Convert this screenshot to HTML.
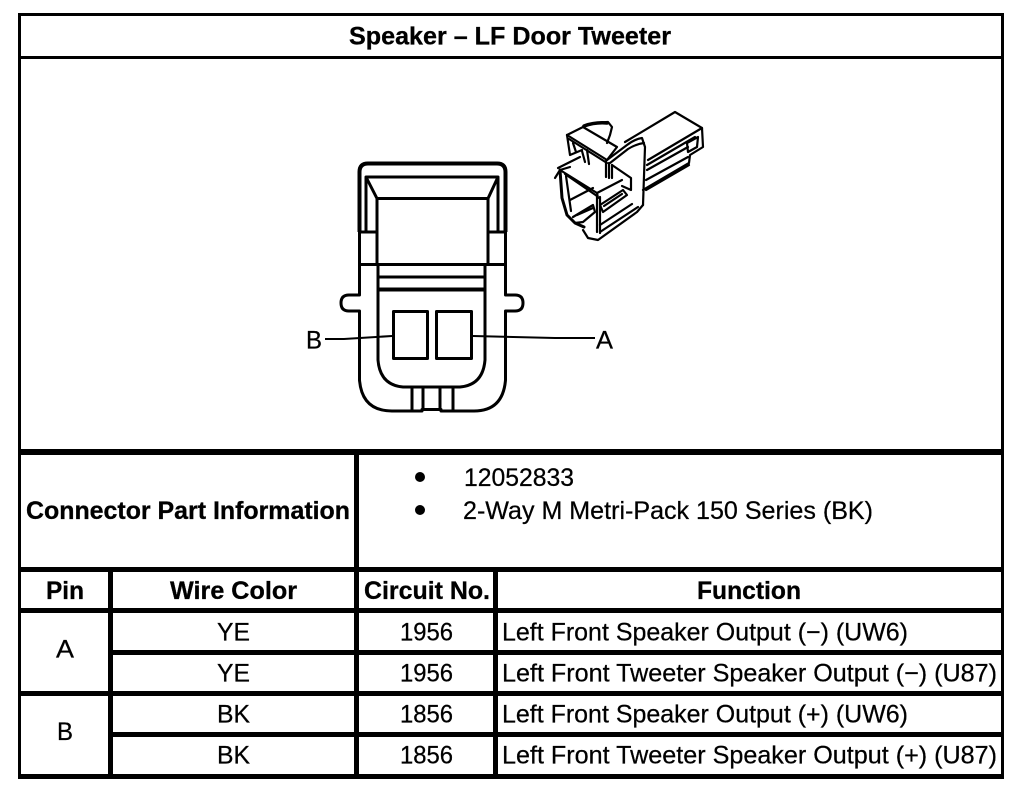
<!DOCTYPE html>
<html><head><meta charset="utf-8"><style>
html,body{margin:0;padding:0;background:#fff;width:1024px;height:800px;overflow:hidden}
svg{display:block}
text{font-family:"Liberation Sans",Arial,sans-serif;font-size:25px;fill:#000;stroke:#000;stroke-width:.25px}
.b{font-weight:bold;stroke-width:.3px}
</style></head><body>
<svg width="1024" height="800" viewBox="0 0 1024 800" xmlns="http://www.w3.org/2000/svg">
<rect width="1024" height="800" fill="#fff"/>
<g fill="#000" shape-rendering="crispEdges">
<rect x="18" y="13" width="986" height="3"/>
<rect x="18" y="56" width="986" height="3"/>
<rect x="18" y="13" width="3" height="766"/>
<rect x="1001" y="13" width="3" height="766"/>
<rect x="18" y="449" width="986" height="6"/>
<rect x="18" y="567" width="986" height="5"/>
<rect x="18" y="608" width="986" height="5"/>
<rect x="108" y="650" width="896" height="5"/>
<rect x="18" y="691" width="986" height="5"/>
<rect x="108" y="732" width="896" height="5"/>
<rect x="18" y="774" width="986" height="5"/>
<rect x="108" y="567" width="5" height="212"/>
<rect x="354" y="449" width="5" height="330"/>
<rect x="493" y="567" width="5" height="212"/>
</g>
<g>
<text class="b" x="349" y="44.500" textLength="322" lengthAdjust="spacingAndGlyphs">Speaker – LF Door Tweeter</text>
<text class="b" x="26" y="519" textLength="324" lengthAdjust="spacingAndGlyphs">Connector Part Information</text>
<circle cx="420" cy="477" r="5"/><circle cx="420" cy="510" r="5"/>
<text x="464" y="486" textLength="110" lengthAdjust="spacingAndGlyphs">12052833</text>
<text x="463" y="519" textLength="410" lengthAdjust="spacingAndGlyphs">2-Way M Metri-Pack 150 Series (BK)</text>
<text class="b" x="46" y="599" textLength="38" lengthAdjust="spacingAndGlyphs">Pin</text>
<text class="b" x="170" y="599" textLength="127" lengthAdjust="spacingAndGlyphs">Wire Color</text>
<text class="b" x="364" y="599" textLength="126" lengthAdjust="spacingAndGlyphs">Circuit No.</text>
<text class="b" x="697" y="599" textLength="104" lengthAdjust="spacingAndGlyphs">Function</text>
<text x="56" y="657.500" textLength="18" lengthAdjust="spacingAndGlyphs">A</text>
<text x="57" y="740" textLength="16" lengthAdjust="spacingAndGlyphs">B</text>
<text x="217" y="640.500" textLength="33" lengthAdjust="spacingAndGlyphs">YE</text>
<text x="217" y="681.500" textLength="33" lengthAdjust="spacingAndGlyphs">YE</text>
<text x="217" y="722.500" textLength="33" lengthAdjust="spacingAndGlyphs">BK</text>
<text x="217" y="763.500" textLength="33" lengthAdjust="spacingAndGlyphs">BK</text>
<text x="400" y="640.500" textLength="53" lengthAdjust="spacingAndGlyphs">1956</text>
<text x="400" y="681.500" textLength="53" lengthAdjust="spacingAndGlyphs">1956</text>
<text x="400" y="722.500" textLength="53" lengthAdjust="spacingAndGlyphs">1856</text>
<text x="400" y="763.500" textLength="53" lengthAdjust="spacingAndGlyphs">1856</text>
<text x="502" y="640.500" textLength="406" lengthAdjust="spacingAndGlyphs">Left Front Speaker Output (−) (UW6)</text>
<text x="502" y="681.500" textLength="495" lengthAdjust="spacingAndGlyphs">Left Front Tweeter Speaker Output (−) (U87)</text>
<text x="502" y="722.500" textLength="406" lengthAdjust="spacingAndGlyphs">Left Front Speaker Output (+) (UW6)</text>
<text x="502" y="763.500" textLength="495" lengthAdjust="spacingAndGlyphs">Left Front Tweeter Speaker Output (+) (U87)</text>
<text x="306" y="348.500" textLength="16" lengthAdjust="spacingAndGlyphs">B</text>
<text x="596" y="348.500" textLength="17" lengthAdjust="spacingAndGlyphs">A</text>
</g>

<!-- front-view connector -->
<g fill="none" stroke="#000" stroke-width="3" stroke-linejoin="round">
<path d="M359.500 232V172Q359.500 163.500 368 163.500H497Q505.500 163.500 505.500 172V232" stroke-width="4"/>
<path d="M359.500 232V264M505.500 232V264"/>
<path d="M359.500 264V295H349Q341 295 341 303Q341 311 349 311H359.500V380Q362 411 392 411H422V409.500H441V411H474Q503 411 505.500 380V311H515Q523 311 523 303Q523 295 515 295H505.500V264"/>
<path d="M366 231V177H498V231"/>
<path d="M366 177L377 198.500H488L498 177"/>
<path d="M377 198V264"/><path d="M488 198V264"/>
<path d="M359 232H377"/><path d="M488 232H505"/>
<path d="M359 264.500H505"/>
<path d="M378 277H485"/>
<path d="M378 264V290"/><path d="M485 264V290"/>
<path d="M378 289.500H485" stroke-width="4"/>
<path d="M378 290V360Q380 385 403 387H460Q483 385 485 360V290"/>
<rect x="393.500" y="311.500" width="34" height="47"/>
<rect x="436.500" y="311.500" width="35" height="47"/>
<path d="M412 387V411M423 387V411M440 387V411M453 387V411"/>
</g>
<g fill="none" stroke="#000" stroke-width="2">
<path d="M325 339H344L392 336"/>
<path d="M473 336L555 338H595"/>
</g>

<!-- isometric connector -->
<g fill="none" stroke="#000" stroke-width="2.200" stroke-linejoin="round" stroke-linecap="round">
<path d="M567 135L583 127Q595 122 608 122L612 127L610 135L607 143" />
<path d="M584 126Q595 122 607 123" stroke-width="3.500"/>
<path d="M567 135L607 160M569 139L607 163"/>
<path d="M583 127L617 147L607 160"/>
<path d="M567 135L570 155L582 150M573 143L576 152"/>
<path d="M582 151L585 162M587 150L589 164"/>
<path d="M558 168L580 157"/>
<path d="M607 160L627 145Q635 139 642 138L645 147L643 205"/>
<path d="M610 163L628 149Q636 144 644 143"/>
<path d="M606 161V177M609 163V178M612 165V178"/>
<path d="M612 165L631 178V190L622 186"/>
<path d="M625 142L675 112L702 128L703 147L690 155L689 163L643 190"/>
<path d="M648 160L702 128M647 165L695 137M647 170L688 147"/>
<path d="M687 143L698 137L697 147L688 152Z"/>
<path d="M646 180L688 157"/>
<path d="M646 190L689 165"/>
<path d="M555 178L560 170L570 167"/>
<path d="M560 170L597 193L598 198"/>
<path d="M565 174L597 196"/>
<path d="M560 170L562 198L567 215L575 223L584 227" stroke-width="3"/>
<path d="M566 176L571 211"/>
<path d="M570 200L593 188"/>
<path d="M573 217L593 205L595 212L583 222L575 223"/>
<path d="M577 215L593 208"/>
<path d="M597 196V232M600 197V233"/>
<path d="M583 230L588 238L598 240L637 212L643 205"/>
<path d="M600 232L638 207M600 225L632 204"/>
<path d="M600 205L623 190L627 195L603 212Z"/>
<path d="M604 206L622 194"/>
<path d="M597 193L622 180"/>
</g>
</svg>
</body></html>
